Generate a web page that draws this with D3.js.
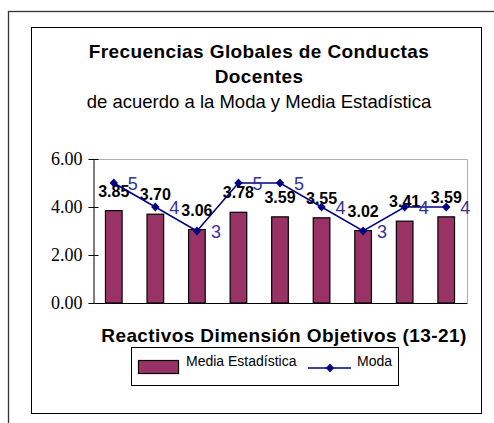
<!DOCTYPE html>
<html>
<head>
<meta charset="utf-8">
<script src="https://cdn.jsdelivr.net/npm/d3@7"></script>
<style>
 body{margin:0;background:#fff;}
 svg{display:block;}
</style>
</head>
<body>
<div id="chart"></div>
<script>
// data
const categories = ['13','14','15','16','17','18','19','20','21'];
const media = [3.85, 3.70, 3.06, 3.78, 3.59, 3.55, 3.02, 3.41, 3.59];
const moda = [5, 4, 3, 5, 5, 4, 3, 4, 4];
const yTicks = [0, 2, 4, 6];
const titleLines = ['Frecuencias Globales de Conductas', 'Docentes'];
const subtitle = 'de acuerdo a la Moda y Media Estadística';
const xTitle = 'Reactivos Dimensión Objetivos (13-21)';
const legendLabels = ['Media Estadística', 'Moda'];

const width = 494, height = 423;
const plot = {left: 93, right: 467, top: 159, bottom: 303};

const svg = d3.select('#chart').append('svg')
    .attr('width', width)
    .attr('height', height);

// outer frame (runs past the right and bottom edges)
svg.append('rect')
    .attr('x', 8.5).attr('y', 11.5)
    .attr('width', 600).attr('height', 600)
    .attr('fill', 'none')
    .attr('stroke', '#333')
    .attr('stroke-width', 1.3);

// chart box
svg.append('rect')
    .attr('x', 31.5).attr('y', 27.5)
    .attr('width', 450).attr('height', 386)
    .attr('fill', '#fff')
    .attr('stroke', '#000')
    .attr('stroke-width', 1);

// titles
const titles = svg.append('g')
    .attr('font-family', '"Liberation Sans", Arial, sans-serif')
    .attr('text-anchor', 'middle');

titles.selectAll('.title-line')
    .data(titleLines)
    .join('text')
    .attr('class', 'title-line')
    .attr('x', 259)
    .attr('y', (d, i) => 58 + i * 25)
    .attr('font-size', 19)
    .attr('letter-spacing', 0.4)
    .attr('font-weight', 'bold')
    .text(d => d);

titles.append('text')
    .attr('x', 259)
    .attr('y', 108)
    .attr('font-size', 18.5)
    .text(subtitle);

// scales
const xScale = d3.scaleBand()
    .domain(categories)
    .range([plot.left, plot.right])
    .paddingInner(0.6)
    .paddingOuter(0.3);

const yScale = d3.scaleLinear()
    .domain([0, 6])
    .range([plot.bottom, plot.top]);

// plot area border (gray top / right)
svg.append('path')
    .attr('d', `M${plot.left},${plot.top + 0.5}H${plot.right + 0.5}V${plot.bottom}`)
    .attr('fill', 'none')
    .attr('stroke', '#b0b0b0')
    .attr('stroke-width', 1);

// y axis
const yAxis = d3.axisLeft(yScale)
    .tickValues(yTicks)
    .tickFormat(d3.format('.2f'))
    .tickSizeInner(5)
    .tickSizeOuter(0)
    .tickPadding(6);

const yG = svg.append('g')
    .attr('transform', `translate(${plot.left + 0.5},0)`)
    .call(yAxis);

yG.selectAll('.tick line')
    .attr('x1', 5)
    .attr('stroke', '#000');
yG.select('.domain').attr('stroke', '#000');
yG.selectAll('.tick text')
    .attr('font-family', '"Liberation Serif", "Times New Roman", serif')
    .attr('font-size', 18)
    .attr('fill', '#000');

// bars
svg.append('g')
    .selectAll('rect')
    .data(media)
    .join('rect')
    .attr('x', (d, i) => xScale(categories[i]))
    .attr('y', d => yScale(d))
    .attr('width', xScale.bandwidth())
    .attr('height', d => yScale(0) - yScale(d))
    .attr('fill', '#993366')
    .attr('stroke', '#000')
    .attr('stroke-width', 1.2);

// x axis line
svg.append('line')
    .attr('x1', plot.left)
    .attr('x2', plot.right + 0.5)
    .attr('y1', plot.bottom + 0.5)
    .attr('y2', plot.bottom + 0.5)
    .attr('stroke', '#000');

// bar labels
svg.append('g')
    .selectAll('text')
    .data(media)
    .join('text')
    .attr('x', (d, i) => xScale(categories[i]) + xScale.bandwidth() / 2)
    .attr('y', d => yScale(d) - 14)
    .attr('text-anchor', 'middle')
    .attr('font-family', '"Liberation Sans", Arial, sans-serif')
    .attr('font-size', 16)
    .attr('font-weight', 'bold')
    .text(d => d.toFixed(2));

// moda line
const cx = i => xScale(categories[i]) + xScale.bandwidth() / 2;
const line = d3.line()
    .x((d, i) => cx(i))
    .y(d => yScale(d));

svg.append('path')
    .datum(moda)
    .attr('d', line)
    .attr('fill', 'none')
    .attr('stroke', '#000080')
    .attr('stroke-width', 1.5);

const diamond = 'M0,-4.5L4.2,0L0,4.5L-4.2,0Z';

svg.append('g')
    .selectAll('path')
    .data(moda)
    .join('path')
    .attr('d', diamond)
    .attr('transform', (d, i) => `translate(${cx(i)},${yScale(d)})`)
    .attr('fill', '#000080');

svg.append('g')
    .selectAll('text')
    .data(moda)
    .join('text')
    .attr('x', (d, i) => cx(i) + 14)
    .attr('y', d => yScale(d) + 7)
    .attr('font-family', '"Liberation Sans", Arial, sans-serif')
    .attr('font-size', 18)
    .attr('fill', '#333399')
    .text(d => d);

// x axis title
svg.append('text')
    .attr('x', (plot.left + plot.right) / 2 + 4)
    .attr('y', 342)
    .attr('text-anchor', 'middle')
    .attr('font-family', '"Liberation Sans", Arial, sans-serif')
    .attr('font-size', 19)
    .attr('letter-spacing', 0.4)
    .attr('font-weight', 'bold')
    .text(xTitle);

// legend
const legend = svg.append('g')
    .attr('font-family', '"Liberation Sans", Arial, sans-serif')
    .attr('font-size', 14);

legend.append('rect')
    .attr('x', 131.5).attr('y', 347.5)
    .attr('width', 267).attr('height', 38)
    .attr('fill', '#fff')
    .attr('stroke', '#000');

legend.append('rect')
    .attr('x', 138.5).attr('y', 360.5)
    .attr('width', 40).attr('height', 13)
    .attr('fill', '#993366')
    .attr('stroke', '#000')
    .attr('stroke-width', 1.2);

legend.append('text')
    .attr('x', 186).attr('y', 366)
    .text(legendLabels[0]);

legend.append('line')
    .attr('x1', 308).attr('x2', 351)
    .attr('y1', 368).attr('y2', 368)
    .attr('stroke', '#000080')
    .attr('stroke-width', 1.5);

legend.append('path')
    .attr('d', diamond)
    .attr('transform', 'translate(330,368)')
    .attr('fill', '#000080');

legend.append('text')
    .attr('x', 357).attr('y', 366)
    .text(legendLabels[1]);
</script>
</body>
</html>
